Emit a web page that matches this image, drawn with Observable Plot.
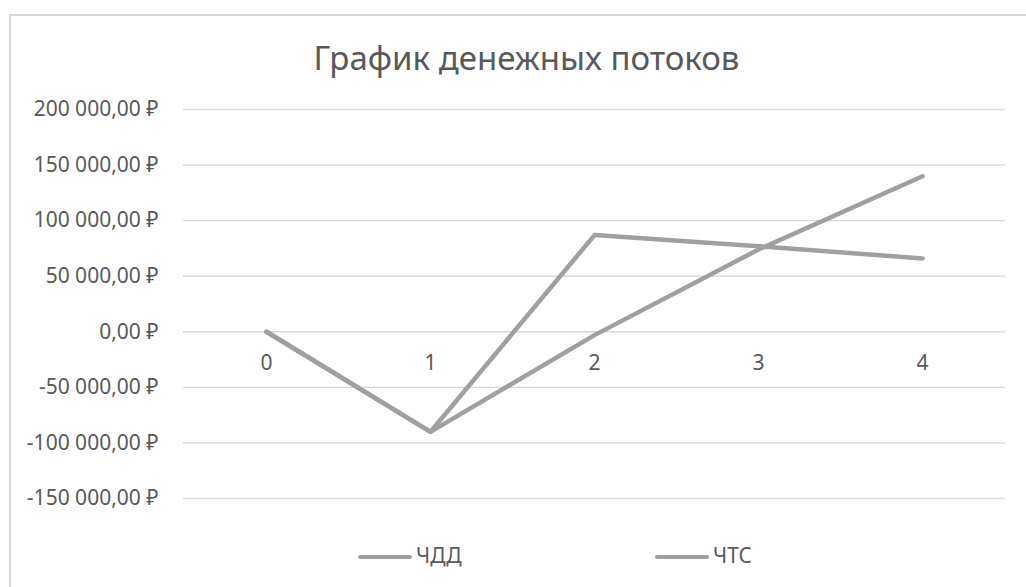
<!DOCTYPE html>
<html>
<head>
<meta charset="utf-8">
<script src="https://cdn.jsdelivr.net/npm/d3@7"></script>
<script src="https://cdn.jsdelivr.net/npm/@observablehq/plot@0.6"></script>
<style>
  html, body { margin: 0; padding: 0; background: #fff; overflow: hidden; width: 1026px; height: 587px; }
  body { position: relative; font-family: "Noto Sans", "DejaVu Sans", sans-serif; color: #595959; }
  #frame { position: absolute; left: 9px; top: 14px; width: 2000px; height: 2000px; border: 2px solid #d9d9d9; pointer-events: none; }
  #title { position: relative; height: 90px; box-sizing: border-box; padding-top: 41px; width: 1053px; text-align: center; font-size: 33px; line-height: 33px; color: #595959; white-space: nowrap; }
  #chart { position: relative; height: 440px; }
  #chart svg { display: block; }
  #legend { position: relative; height: 57px; }
  .sw { position: absolute; height: 4.5px; border-radius: 3px; background: #a0a0a0; }
  .lab { position: absolute; font-size: 21px; line-height: 21px; color: #595959; }
</style>
</head>
<body>
<div id="frame"></div>
<div id="title"></div>
<div id="chart"></div>
<div id="legend"></div>
<script>
const titleText = "График денежных потоков";
const years = [0, 1, 2, 3, 4];
const seriesNames = ["ЧДД", "ЧТС"];
const chdd = [0, -90000, 87000, 77000, 66000];
const chts = [0, -90000, -3000, 74000, 140000];
const yTicks = [-150000, -100000, -50000, 0, 50000, 100000, 150000, 200000];
const yDomain = [-150000, 200000];

const ru = d3.formatLocale({decimal: ",", thousands: " ", grouping: [3], currency: ["", " ₽"], minus: "-"});
const fmt = ru.format("$,.2f");

const data = [];
years.forEach((t, i) => {
  data.push({t, v: chdd[i], s: seriesNames[0]});
  data.push({t, v: chts[i], s: seriesNames[1]});
});

document.getElementById("title").textContent = titleText;

const plot = Plot.plot({
  width: 1026,
  height: 440,
  marginLeft: 183,
  marginRight: 21,
  marginTop: 19,
  marginBottom: 32,
  x: {type: "point", domain: years, padding: 0.5, axis: null},
  y: {domain: yDomain, label: null},
  style: {fontFamily: "'Noto Sans', 'DejaVu Sans', sans-serif", fontSize: "21px", color: "#595959", background: "transparent"},
  marks: [
    Plot.gridY(yTicks, {stroke: "#d9d9d9", strokeOpacity: 1, strokeWidth: 1.4}),
    Plot.axisY(yTicks, {tickSize: 0, tickPadding: 25, tickFormat: fmt, fill: "#595959", label: null, fontSize: 21}),
    Plot.text(years, {x: d => d, y: () => 0, dy: 31, text: d => String(d), fill: "#595959", fontSize: 21}),
    Plot.line(data, {x: "t", y: "v", z: "s", stroke: "#a0a0a0", strokeWidth: 4.5, strokeLinecap: "round", strokeLinejoin: "round"})
  ]
});
document.getElementById("chart").appendChild(plot);

const legend = document.getElementById("legend");
const legendX = [358, 655];
seriesNames.forEach((name, i) => {
  const sw = document.createElement("div");
  sw.className = "sw";
  sw.style.left = legendX[i] + "px";
  sw.style.width = "54px";
  sw.style.top = (27 - 2.25) + "px";
  legend.appendChild(sw);
  const lab = document.createElement("div");
  lab.className = "lab";
  lab.style.left = (legendX[i] + 58) + "px";
  lab.style.top = (27 - 12) + "px";
  lab.textContent = name;
  legend.appendChild(lab);
});
</script>
</body>
</html>
